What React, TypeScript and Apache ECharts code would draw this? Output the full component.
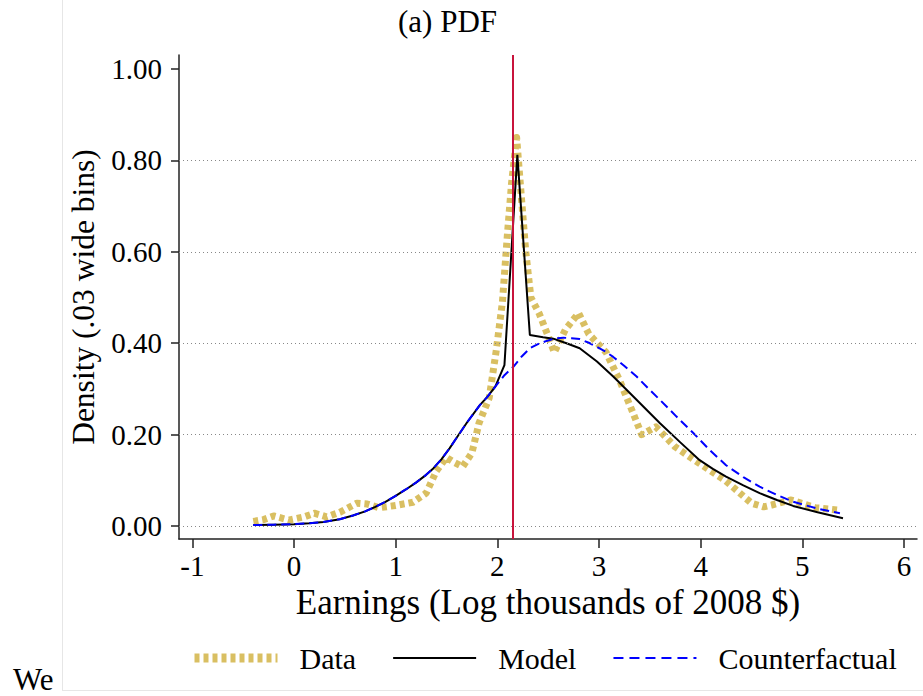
import React, { useEffect, useRef } from "react";
import * as echarts from "echarts";

// ---- Data ----
const xTicks = [-1, 0, 1, 2, 3, 4, 5, 6];
const yTicks = [0, 0.2, 0.4, 0.6, 0.8, 1.0];

const dataX = [-0.4, -0.3, -0.2, -0.05, 0.1, 0.2, 0.32, 0.45, 0.62, 0.72, 0.84, 1.0, 1.17, 1.3, 1.4, 1.5, 1.57, 1.66, 1.75, 1.82, 1.92, 1.99, 2.05, 2.1, 2.14, 2.19, 2.24, 2.28, 2.33, 2.41, 2.51, 2.56, 2.67, 2.8, 2.9, 3.07, 3.2, 3.33, 3.42, 3.56, 3.75, 3.98, 4.24, 4.5, 4.62, 4.7, 4.89, 5.13, 5.35];
const dataY = [0.01, 0.014, 0.022, 0.013, 0.02, 0.028, 0.02, 0.03, 0.05, 0.048, 0.04, 0.045, 0.052, 0.072, 0.12, 0.15, 0.14, 0.13, 0.16, 0.225, 0.28, 0.385, 0.49, 0.64, 0.75, 0.85, 0.71, 0.6, 0.5, 0.466, 0.41, 0.38, 0.43, 0.466, 0.42, 0.38, 0.32, 0.25, 0.2, 0.217, 0.173, 0.138, 0.1, 0.05, 0.042, 0.046, 0.057, 0.04, 0.035];

const modelX = [-0.4, -0.2, 0.0, 0.15, 0.29, 0.45, 0.58, 0.7, 0.8, 0.9, 1.0, 1.1, 1.2, 1.3, 1.37, 1.45, 1.53, 1.6, 1.7, 1.83, 1.9, 1.98, 2.07, 2.197, 2.32, 2.45, 2.55, 2.68, 2.81, 2.98, 3.14, 3.34, 3.47, 3.6, 3.8, 3.99, 4.12, 4.25, 4.42, 4.58, 4.75, 4.91, 5.15, 5.4];
const modelY = [0.002, 0.003, 0.004, 0.006, 0.009, 0.015, 0.023, 0.032, 0.042, 0.053, 0.066, 0.08, 0.095, 0.112, 0.126, 0.146, 0.17, 0.193, 0.226, 0.265, 0.282, 0.305, 0.352, 0.812, 0.418, 0.413, 0.41, 0.4, 0.389, 0.36, 0.327, 0.283, 0.254, 0.225, 0.183, 0.144, 0.125, 0.108, 0.089, 0.072, 0.057, 0.044, 0.03, 0.017];

const cfX = [-0.4, -0.2, 0.0, 0.15, 0.29, 0.45, 0.58, 0.7, 0.8, 0.9, 1.0, 1.1, 1.2, 1.3, 1.37, 1.45, 1.53, 1.6, 1.7, 1.83, 1.9, 1.98, 2.07, 2.16, 2.24, 2.32, 2.4, 2.485, 2.56, 2.65, 2.73, 2.81, 2.9, 2.98, 3.06, 3.14, 3.25, 3.37, 3.48, 3.6, 3.76, 3.93, 4.09, 4.25, 4.42, 4.58, 4.75, 4.91, 5.15, 5.37];
const cfY = [0.002, 0.003, 0.004, 0.006, 0.009, 0.015, 0.023, 0.032, 0.042, 0.053, 0.066, 0.08, 0.095, 0.112, 0.126, 0.146, 0.17, 0.193, 0.226, 0.265, 0.282, 0.305, 0.33, 0.349, 0.371, 0.389, 0.398, 0.405, 0.41, 0.412, 0.411, 0.409, 0.401, 0.392, 0.382, 0.37, 0.35, 0.327, 0.302, 0.276, 0.24, 0.203, 0.166, 0.133, 0.107, 0.086, 0.068, 0.053, 0.038, 0.028];

const cutoff = 2.151;
const seriesNames = ["Data", "Model", "Counterfactual"];

const SERIF = "'Liberation Serif', 'Times New Roman', serif";

const pairs = (xs: number[], ys: number[]) => xs.map((x, i) => [x, ys[i]]);

export default function App() {
  const ref = useRef<HTMLDivElement>(null);
  useEffect(() => {
    document.body.style.margin = "0";
    const chart = echarts.init(ref.current!, null, { renderer: "svg" });
    const gold = "#D9BF62";
    const option: any = {
      animation: false,
      backgroundColor: "#ffffff",
      grid: { left: 179, top: 55, width: 738, height: 484, outerBoundsMode: "none", containLabel: false },
      xAxis: {
        type: "value",
        min: -1.131,
        max: 6.128,
        name: "Earnings (Log thousands of 2008 $)",
        nameLocation: "middle",
        nameGap: 36,
        nameTextStyle: { fontFamily: SERIF, fontSize: 35, color: "#000" },
        axisLine: { show: true, onZero: false, lineStyle: { color: "#222", width: 1.5 } },
        axisTick: { show: true, length: 9, lineStyle: { color: "#222", width: 1.5 }, customValues: xTicks },
        axisLabel: { show: true, margin: 12, fontFamily: SERIF, fontSize: 29, color: "#000", customValues: xTicks, formatter: (v: number) => String(v) },
        splitLine: { show: false },
      },
      yAxis: {
        type: "value",
        min: -0.0284,
        max: 1.0306,
        name: "Density (.03 wide bins)",
        nameLocation: "middle",
        nameGap: 80,
        nameTextStyle: { fontFamily: SERIF, fontSize: 31.5, color: "#000" },
        axisLine: { show: true, onZero: false, lineStyle: { color: "#222", width: 1.5 } },
        axisTick: { show: true, length: 8, lineStyle: { color: "#222", width: 1.5 }, customValues: yTicks },
        axisLabel: { show: true, margin: 17, fontFamily: SERIF, fontSize: 29, color: "#000", customValues: yTicks, formatter: (v: number) => v.toFixed(2) },
        splitLine: { show: false },
      },
      legend: {
        left: 185,
        top: 638,
        itemWidth: 83,
        itemHeight: 14,
        itemGap: 36,
        textStyle: { fontFamily: SERIF, fontSize: 30, color: "#000", padding: [0, 0, 0, 17] },
        data: [
          { name: seriesNames[0], lineStyle: { width: 9 }, itemStyle: { opacity: 0 } },
          { name: seriesNames[1], lineStyle: { width: 2 }, itemStyle: { opacity: 0 } },
          { name: seriesNames[2], lineStyle: { width: 2, type: [10, 6] }, itemStyle: { opacity: 0 } },
        ],
      },
      graphic: [
        { type: "line", shape: { x1: 62.5, y1: 0, x2: 62.5, y2: 690.5 }, style: { stroke: "#e6e6e6", lineWidth: 1 }, silent: true },
        { type: "line", shape: { x1: 62, y1: 690.5, x2: 923, y2: 690.5 }, style: { stroke: "#e6e6e6", lineWidth: 1 }, silent: true },
        { type: "text", x: 13, y: 679, style: { text: "We", font: `31px ${SERIF}`, fill: "#000", verticalAlign: "middle", lineHeight: 30 }, silent: true },
        { type: "text", x: 447.5, y: 21, style: { text: "(a) PDF", font: `31px ${SERIF}`, fill: "#000", align: "center", verticalAlign: "middle" }, silent: true },
      ],
      series: [
        {
          name: "gridlines",
          type: "line",
          z: 0,
          data: [[-5, -5]],
          symbol: "none",
          lineStyle: { opacity: 0 },
          silent: true,
          markLine: {
            silent: true,
            symbol: "none",
            label: { show: false },
            lineStyle: { color: "#888", width: 1, type: [1, 3] },
            data: yTicks.slice(0, 5).map((v) => ({ yAxis: v })),
          },
        },
        {
          name: seriesNames[0],
          type: "line",
          z: 2,
          data: pairs(dataX, dataY),
          symbol: "none",
          showSymbol: false,
          color: gold,
          lineStyle: { color: gold, width: 7, type: [5, 4], cap: "butt", join: "round" },
        },
        {
          name: seriesNames[1],
          type: "line",
          z: 3,
          data: pairs(modelX, modelY),
          symbol: "none",
          showSymbol: false,
          color: "#000",
          lineStyle: { color: "#000", width: 2 },
        },
        {
          name: seriesNames[2],
          type: "line",
          z: 4,
          data: pairs(cfX, cfY),
          symbol: "none",
          showSymbol: false,
          color: "#0000FF",
          lineStyle: { color: "#0000FF", width: 2, type: [9, 5] },
        },
        {
          name: "cutoff",
          type: "line",
          z: 5,
          data: [[-5, -5]],
          symbol: "none",
          lineStyle: { opacity: 0 },
          silent: true,
          markLine: {
            silent: true,
            symbol: "none",
            label: { show: false },
            lineStyle: { color: "#C8143C", width: 2, type: "solid" },
            data: [{ xAxis: cutoff }],
          },
        },
      ],
    };
    chart.setOption(option);
    return () => chart.dispose();
  }, []);
  return <div ref={ref} style={{ width: 923, height: 696 }} />;
}
